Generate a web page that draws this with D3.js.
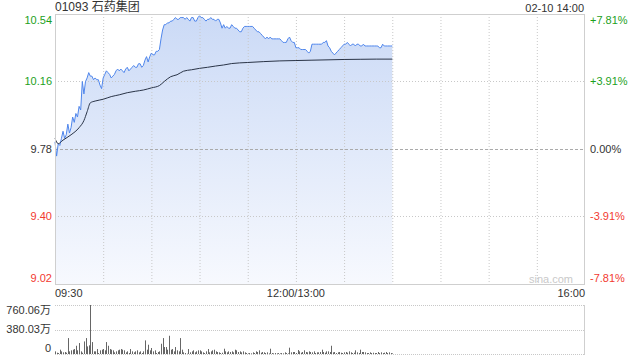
<!DOCTYPE html>
<html>
<head>
<meta charset="utf-8">
<script src="https://cdn.jsdelivr.net/npm/d3@7"></script>
<style>
  body { margin: 0; background: #fff; }
  svg { display: block; font-family: "Liberation Sans", Arial, "Noto Sans CJK SC", sans-serif; }
</style>
</head>
<body>
<script>
// minute-by-minute prices, 09:30 .. 14:00 (lunch break removed)
const prices = [
  9.82, 9.74, 9.81, 9.80, 9.84, 9.88, 9.84, 9.86, 9.92, 9.87,
  9.90, 9.96, 9.93, 9.98, 9.96, 10.02, 10.00, 10.16, 10.09, 10.16,
  10.18, 10.21, 10.19, 10.19, 10.17, 10.18, 10.17, 10.17, 10.14, 10.12,
  10.18, 10.20, 10.22, 10.21, 10.20, 10.18, 10.19, 10.20, 10.22, 10.23,
  10.22, 10.23, 10.22, 10.21, 10.23, 10.24, 10.22, 10.23, 10.24, 10.25,
  10.24, 10.24, 10.26, 10.26, 10.24, 10.25, 10.28, 10.30, 10.27, 10.30,
  10.32, 10.31, 10.31, 10.33, 10.33, 10.34, 10.40, 10.45, 10.48, 10.48,
  10.49, 10.49, 10.50, 10.50, 10.51, 10.52, 10.51, 10.51, 10.52, 10.52,
  10.52, 10.51, 10.52, 10.51, 10.50, 10.52, 10.52, 10.50, 10.50, 10.52,
  10.53, 10.52, 10.52, 10.51, 10.50, 10.51, 10.51, 10.52, 10.51, 10.51,
  10.50, 10.51, 10.51, 10.49, 10.46, 10.48, 10.46, 10.47, 10.46, 10.46,
  10.48, 10.47, 10.46, 10.46, 10.45, 10.44, 10.44, 10.46, 10.47, 10.47,
  10.47, 10.47, 10.47, 10.47, 10.46, 10.45, 10.44, 10.44, 10.43, 10.42,
  10.41, 10.40, 10.41, 10.40, 10.41, 10.40, 10.40, 10.40, 10.40, 10.40,
  10.40, 10.39, 10.38, 10.38, 10.38, 10.40, 10.41, 10.39, 10.38, 10.38,
  10.35, 10.35, 10.35, 10.34, 10.34, 10.34, 10.34, 10.33, 10.32, 10.33,
  10.37, 10.37, 10.37, 10.37, 10.37, 10.37, 10.37, 10.38, 10.38, 10.39,
  10.36, 10.35, 10.33, 10.32, 10.31, 10.32, 10.33, 10.34, 10.35, 10.36,
  10.37, 10.37, 10.38, 10.37, 10.36, 10.37, 10.37, 10.36, 10.37, 10.37,
  10.36, 10.36, 10.37, 10.36, 10.36, 10.36, 10.36, 10.36, 10.36, 10.36,
  10.36, 10.36, 10.35, 10.35, 10.37, 10.36, 10.36, 10.36, 10.36, 10.36,
  10.36
]

// average price line, read at these minutes
const avgMinutes = [0, 2, 5, 10, 15, 18, 20, 22, 25, 30, 35, 40, 45, 50, 55, 60, 65, 68, 72, 76, 80, 85, 90, 95, 100, 105, 110, 120, 130, 140, 150, 160, 170, 180, 190, 200, 210]
const avgPrices = [9.84, 9.81, 9.83, 9.86, 9.90, 9.94, 9.99, 10.04, 10.05, 10.06, 10.075, 10.085, 10.097, 10.105, 10.112, 10.124, 10.137, 10.16, 10.187, 10.198, 10.218, 10.226, 10.234, 10.24, 10.247, 10.253, 10.261, 10.267, 10.272, 10.276, 10.278, 10.28, 10.282, 10.284, 10.285, 10.286, 10.286]

// volume per minute, in 万
const volumes = [
  41, 20, 15, 67, 41, 26, 31, 20, 247, 41,
  57, 67, 77, 128, 57, 170, 41, 20, 195, 247,
  118, 134, 760, 185, 41, 41, 77, 15, 57, 67,
  77, 57, 185, 128, 77, 67, 57, 26, 41, 57,
  67, 77, 67, 57, 26, 41, 15, 77, 41, 26,
  41, 57, 26, 41, 15, 41, 211, 67, 144, 57,
  93, 41, 57, 15, 31, 41, 159, 247, 108, 108,
  67, 283, 67, 77, 41, 108, 57, 41, 247, 67,
  26, 15, 5, 77, 26, 41, 57, 26, 41, 57,
  57, 41, 26, 15, 41, 77, 26, 41, 57, 67,
  41, 31, 26, 15, 20, 82, 41, 26, 41, 31,
  41, 26, 67, 57, 31, 41, 26, 41, 26, 15,
  10, 15, 10, 26, 15, 41, 31, 57, 20, 31,
  26, 15, 26, 10, 82, 15, 10, 15, 10, 15,
  10, 15, 10, 26, 15, 10, 98, 26, 31, 31,
  15, 62, 41, 20, 31, 57, 31, 26, 41, 31,
  26, 41, 15, 26, 26, 31, 67, 31, 20, 41,
  41, 31, 128, 26, 31, 15, 26, 31, 20, 15,
  26, 31, 20, 41, 26, 15, 20, 57, 26, 15,
  67, 31, 31, 26, 15, 15, 26, 15, 20, 15,
  15, 31, 15, 26, 15, 20, 31, 15, 26, 15,
  10
]

const priceTicks = [10.54, 10.16, 9.78, 9.40, 9.02]
const pctLabels = ['+7.81%', '+3.91%', '0.00%', '-3.91%', '-7.81%']
const volTicks = [760.06, 380.03, 0]
const volLabels = ['760.06万', '380.03万', '0']
const timeLabels = ['09:30', '12:00/13:00', '16:00']
const title = '01093 石药集团'
const stamp = '02-10 14:00'
const prevClose = 9.78

const width = 640
const height = 360
const main = { left: 55, right: 585, top: 14, bottom: 284 }
const vol = { top: 305, bottom: 354 }

const green = '#1d9f1d'
const red = '#f23a2f'
const dark = '#333'
const gridColor = '#c8c8c8'

const svg = d3.select('body').append('svg')
  .attr('width', width)
  .attr('height', height)

const x = d3.scaleLinear().domain([0, 330]).range([main.left, main.right])
const y = d3.scaleLinear().domain([9.02, 10.54]).range([main.bottom, main.top])
const yVol = d3.scaleLinear().domain([0, 760.06]).range([vol.bottom, vol.top])

const labelColor = p => p > prevClose ? green : p < prevClose ? red : dark

// gradient for area
const defs = svg.append('defs')
const grad = defs.append('linearGradient')
  .attr('id', 'areaFill')
  .attr('x1', 0).attr('y1', 0).attr('x2', 0).attr('y2', 1)
grad.append('stop').attr('offset', '0%').attr('stop-color', '#cbdaf6')
grad.append('stop').attr('offset', '100%').attr('stop-color', '#f7f9fe')

// area + lines
const area = d3.area()
  .x((d, i) => x(i))
  .y0(main.bottom)
  .y1(d => y(d))

svg.append('path')
  .datum(prices)
  .attr('d', area)
  .attr('fill', 'url(#areaFill)')

// grid
const gridTimes = d3.range(30, 330, 30)
svg.append('g').selectAll('line')
  .data(gridTimes)
  .join('line')
  .attr('x1', d => x(d) + 0.5).attr('x2', d => x(d) + 0.5)
  .attr('y1', main.top).attr('y2', main.bottom)
  .attr('stroke', gridColor)
  .attr('stroke-dasharray', '1,2')

svg.append('g').selectAll('line')
  .data(priceTicks.slice(1, -1))
  .join('line')
  .attr('x1', main.left).attr('x2', main.right)
  .attr('y1', d => Math.round(y(d)) + 0.5).attr('y2', d => Math.round(y(d)) + 0.5)
  .attr('stroke', d => d === prevClose ? '#aaa' : gridColor)
  .attr('stroke-dasharray', d => d === prevClose ? '3,2' : '1,2')

svg.append('path')
  .datum(prices)
  .attr('d', d3.line().x((d, i) => x(i)).y(d => y(d)))
  .attr('fill', 'none')
  .attr('stroke', '#4f86ec')
  .attr('stroke-width', 1)

svg.append('path')
  .datum(avgPrices)
  .attr('d', d3.line().x((d, i) => x(avgMinutes[i])).y(d => y(d)).curve(d3.curveMonotoneX))
  .attr('fill', 'none')
  .attr('stroke', '#2a3447')
  .attr('stroke-width', 1)

// frame
svg.append('rect')
  .attr('x', main.left + 0.5).attr('y', main.top + 0.5)
  .attr('width', main.right - main.left - 1).attr('height', main.bottom - main.top)
  .attr('fill', 'none')
  .attr('stroke', '#cfcfcf')

// price labels
const nTicks = priceTicks.length
const labelShift = i => i === 0 ? 6 : i === nTicks - 1 ? -6 : 0

svg.append('g').selectAll('text')
  .data(priceTicks)
  .join('text')
  .attr('x', main.left - 3)
  .attr('y', (d, i) => y(d) + labelShift(i))
  .attr('dy', '0.35em')
  .attr('text-anchor', 'end')
  .attr('font-size', 11)
  .attr('fill', d => labelColor(d))
  .text(d => d.toFixed(2))

svg.append('g').selectAll('text')
  .data(pctLabels)
  .join('text')
  .attr('x', main.right + 5)
  .attr('y', (d, i) => y(priceTicks[i]) + labelShift(i))
  .attr('dy', '0.35em')
  .attr('font-size', 11)
  .attr('fill', (d, i) => labelColor(priceTicks[i]))
  .text(d => d)

// time labels
const timeAnchor = ['start', 'middle', 'end']
const timePos = [0, 150, 330]
svg.append('g').selectAll('text')
  .data(timeLabels)
  .join('text')
  .attr('x', (d, i) => x(timePos[i]))
  .attr('y', 297)
  .attr('text-anchor', (d, i) => timeAnchor[i])
  .attr('font-size', 11)
  .attr('fill', dark)
  .text(d => d)

svg.append('text')
  .attr('x', main.left)
  .attr('y', 11)
  .attr('font-size', 12)
  .attr('fill', dark)
  .text(title)

svg.append('text')
  .attr('x', main.right - 1)
  .attr('y', 12)
  .attr('text-anchor', 'end')
  .attr('font-size', 11)
  .attr('fill', dark)
  .text(stamp)

svg.append('text')
  .attr('x', 573)
  .attr('y', 283)
  .attr('text-anchor', 'end')
  .attr('font-size', 11)
  .attr('fill', '#c9c9c9')
  .text('sina.com')

// volume panel
svg.append('g').selectAll('line')
  .data(volTicks)
  .join('line')
  .attr('x1', main.left).attr('x2', main.right)
  .attr('y1', d => Math.round(yVol(d)) + 0.5).attr('y2', d => Math.round(yVol(d)) + 0.5)
  .attr('stroke', gridColor)
  .attr('stroke-dasharray', '1,1')

svg.append('line')
  .attr('x1', main.right - 0.5).attr('x2', main.right - 0.5)
  .attr('y1', vol.top).attr('y2', vol.bottom + 1)
  .attr('stroke', '#cfcfcf')

svg.append('g').selectAll('rect')
  .data(volumes)
  .join('rect')
  .attr('x', (d, i) => Math.round(x(i)))
  .attr('y', d => yVol(d))
  .attr('width', 1)
  .attr('height', d => vol.bottom - yVol(d))
  .attr('fill', '#666')

const volShift = [5, 0, -6]
svg.append('g').selectAll('text')
  .data(volLabels)
  .join('text')
  .attr('x', main.left - 4)
  .attr('y', (d, i) => yVol(volTicks[i]) + volShift[i])
  .attr('dy', '0.35em')
  .attr('text-anchor', 'end')
  .attr('font-size', 11)
  .attr('fill', dark)
  .text(d => d)
</script>
</body>
</html>
